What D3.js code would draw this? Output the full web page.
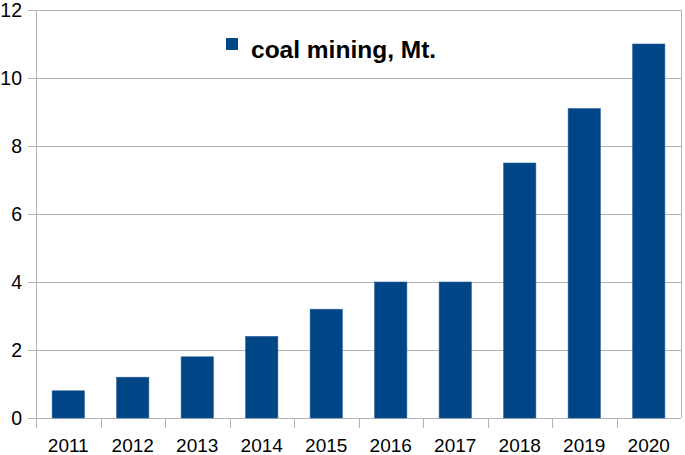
<!DOCTYPE html>
<html><head><meta charset="utf-8">
<script src="https://cdn.jsdelivr.net/npm/d3@7"></script>
<style>body{margin:0;background:#fff}svg{display:block}</style>
</head><body>
<svg id="c" width="685" height="455"></svg>
<script>
const years = ["2011","2012","2013","2014","2015","2016","2017","2018","2019","2020"];
const coal = [0.8,1.2,1.8,2.4,3.2,4.0,4.0,7.5,9.1,11.0];
const yTicks = [0,2,4,6,8,10,12];
const seriesName = "coal mining, Mt.";

const svg = d3.select("#c");
const L=36,R=681,T=10,B=418;
const x = d3.scaleBand().domain(years).range([L,R]).paddingInner(0.5).paddingOuter(0.25);
const xb = d3.scaleBand().domain(years).range([L,R]);
const y = d3.scaleLinear().domain([0,12]).range([B,T]);
const grid="#b3b3b3";
const font="Liberation Sans, Arial, sans-serif";

// gridlines
svg.append("g").selectAll("line").data(yTicks).join("line")
  .attr("x1",L-8).attr("x2",R).attr("y1",d=>y(d)+0.5).attr("y2",d=>y(d)+0.5)
  .attr("stroke",grid).attr("stroke-width",1);
// right border
svg.append("line").attr("x1",R+0.5).attr("x2",R+0.5).attr("y1",T).attr("y2",B).attr("stroke",grid);
// y axis line
svg.append("line").attr("x1",L+0.5).attr("x2",L+0.5).attr("y1",T).attr("y2",B+10).attr("stroke",grid);
// x ticks at band boundaries
svg.append("g").selectAll("line").data(years.slice(1)).join("line")
  .attr("x1",d=>Math.round(xb(d))+0.5).attr("x2",d=>Math.round(xb(d))+0.5)
  .attr("y1",B).attr("y2",B+10).attr("stroke",grid);

// bars
svg.append("g").selectAll("rect").data(coal).join("rect")
  .attr("x",(d,i)=>x(years[i])).attr("width",x.bandwidth())
  .attr("y",d=>y(d)).attr("height",d=>B-y(d))
  .attr("fill","#004586").attr("stroke","#2a5f99").attr("stroke-width",0.6);

// y labels
svg.append("g").selectAll("text").data(yTicks).join("text")
  .attr("x",22).attr("y",d=>y(d)+7).attr("text-anchor","end")
  .attr("font-family",font).attr("font-size",19.5).attr("fill","#000").text(d=>d);
// x labels
svg.append("g").selectAll("text").data(years).join("text")
  .attr("x",d=>xb(d)+xb.bandwidth()/2).attr("y",452).attr("text-anchor","middle")
  .attr("font-family",font).attr("font-size",19).attr("fill","#000").text(d=>d);

// legend
svg.append("rect").attr("x",226).attr("y",38).attr("width",12).attr("height",12).attr("fill","#004586");
svg.append("text").attr("x",251).attr("y",58).attr("font-family",font).attr("font-weight","bold")
  .attr("font-size",24.5).attr("fill","#000").text(seriesName);
</script>
</body></html>
